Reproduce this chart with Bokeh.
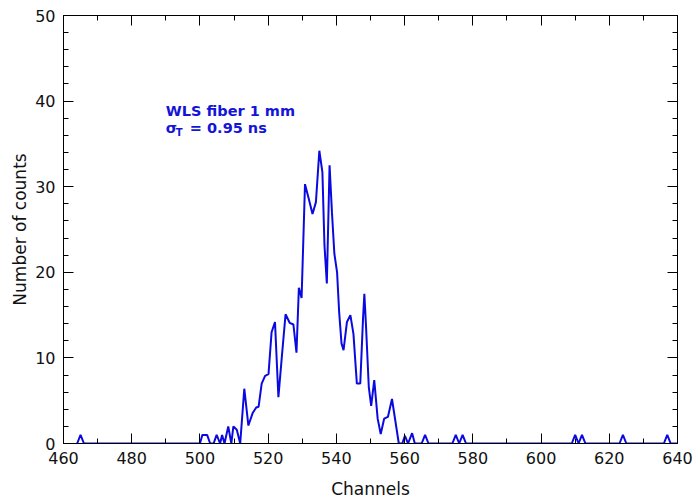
from bokeh.plotting import figure
from bokeh.models import SingleIntervalTicker, LinearAxis, Label, Range1d, CustomJSTickFormatter
from bokeh.embed import file_html
from bokeh.resources import INLINE

channels = [464, 465, 466, 500, 500.7, 502.1, 503, 504, 504.9, 505.9, 506.5, 507.2,
            508.3, 509.2, 509.8, 510.8, 511.8, 513.0, 514.2, 515.5, 516.5, 517.2,
            518.1, 519.1, 520.1, 521.0, 522.0, 523.0, 524.0, 525.1, 526.3, 527.4,
            528.3, 529.0, 529.8, 530.8, 531.9, 533.0, 534.0, 535.0, 535.9, 536.5,
            537.2, 538.0, 538.7, 539.4, 540.2, 540.8, 541.5, 542.1, 543.1, 544.1,
            545.0, 546.0, 547.0, 547.8, 548.2, 548.7, 549.5, 550.2, 551.1, 552.1,
            553.0, 554.0, 555.1, 556.3, 557.3, 558.3, 559.3, 560.1, 561.0, 562.2,
            563.0, 565.0, 566.0, 567.0, 574.0, 575.0, 576.0, 577.0, 578.0, 609.0,
            610.0, 611.0, 612.0, 613.0, 623.0, 624.0, 625.0, 636.0, 637.0, 638.0, 640.0]
counts = [0, 1, 0, 0, 1, 1, 0, 0, 1, 0, 1, 0,
          2, 0, 2, 1.6, 0, 6.4, 2.1, 3.6, 4.2, 4.3,
          7, 7.9, 8.1, 13, 14.2, 5.4, 10.1, 15.1, 14.1, 13.9,
          10.6, 18.2, 17, 30.3, 28.6, 26.8, 28.2, 34.2, 31.7, 23.2,
          18.7, 32.5, 27, 22.2, 20, 15.4, 11.7, 10.9, 14.2, 15,
          12.8, 7, 7, 14.5, 17.5, 13.6, 6.6, 4.4, 7.4, 2.9,
          1.1, 2.9, 3.1, 5.2, 2.6, 0, 0, 0.9, 0, 1.2,
          0, 0, 1, 0, 0, 1, 0, 1, 0, 0,
          1, 0, 1, 0, 0, 1, 0, 0, 1, 0, 0]
assert len(channels) == len(counts)

x_limits = (460, 640)
y_limits = (0, 50)
x_label = "Channels"
y_label = "Number of counts"
note_line1 = "WLS fiber 1 mm"
note_sigma = "\u03c3"
note_sub = "T"
note_rest = "= 0.95 ns"

BLUE = "#0a0ae0"
TEXT_BLUE = "#1414d8"
FONT = "DejaVu Sans"

p = figure(output_backend="svg", toolbar_location=None,
           x_range=Range1d(*x_limits), y_range=Range1d(*y_limits),
           frame_width=614, frame_height=428)
p.min_border_left = 63
p.min_border_right = 20
p.min_border_top = 15
p.min_border_bottom = 58
p.grid.visible = False
p.outline_line_color = "black"
p.outline_line_width = 1
p.background_fill_color = "white"
p.border_fill_color = "white"

p.line(channels, counts, line_color=BLUE, line_width=2)

xt = SingleIntervalTicker(interval=20, num_minor_ticks=2)
yt = SingleIntervalTicker(interval=10, num_minor_ticks=5)

def style(ax):
    ax.major_tick_in = 10
    ax.major_tick_out = 0
    ax.minor_tick_in = 5
    ax.minor_tick_out = 0
    ax.axis_line_color = "black"
    ax.major_tick_line_color = "black"
    ax.minor_tick_line_color = "black"
    ax.major_label_text_font = FONT
    ax.major_label_text_font_size = "16px"
    ax.major_label_text_color = "#111111"
    ax.axis_label_text_font = FONT
    ax.axis_label_text_font_size = "17px"
    ax.axis_label_text_font_style = "normal"
    ax.axis_label_text_color = "#111111"

p.xaxis.ticker = xt
p.yaxis.ticker = yt
style(p.xaxis[0])
style(p.yaxis[0])
p.xaxis.axis_label = x_label
p.yaxis.axis_label = y_label
p.xaxis.major_label_standoff = 8
p.xaxis.axis_label_standoff = 12
p.yaxis.major_label_standoff = 8
p.yaxis.axis_label_standoff = 2

blank = CustomJSTickFormatter(code="return ''")
ax_r = LinearAxis(ticker=SingleIntervalTicker(interval=10, num_minor_ticks=5), formatter=blank)
style(ax_r)
ax_r.major_label_standoff = 0
p.add_layout(ax_r, "right")
ax_t = LinearAxis(ticker=SingleIntervalTicker(interval=20, num_minor_ticks=2), formatter=blank)
style(ax_t)
ax_t.major_label_standoff = 0
p.add_layout(ax_t, "above")

common = dict(text_color=TEXT_BLUE, text_font=FONT, text_font_style="bold",
              text_baseline="middle", x_units="data", y_units="data")
p.add_layout(Label(x=490, y=38.9, text=note_line1, text_font_size="14.5px", **common))
p.add_layout(Label(x=490, y=36.8, text=note_sigma, text_font_size="14.5px", **common))
p.add_layout(Label(x=490, y=36.8, x_offset=10, y_offset=-4, text=note_sub,
                   text_font_size="10px", **common))
p.add_layout(Label(x=490, y=36.8, x_offset=24, text=note_rest,
                   text_font_size="14.5px", **common))

open("out.html", "w").write(file_html(p, INLINE))
